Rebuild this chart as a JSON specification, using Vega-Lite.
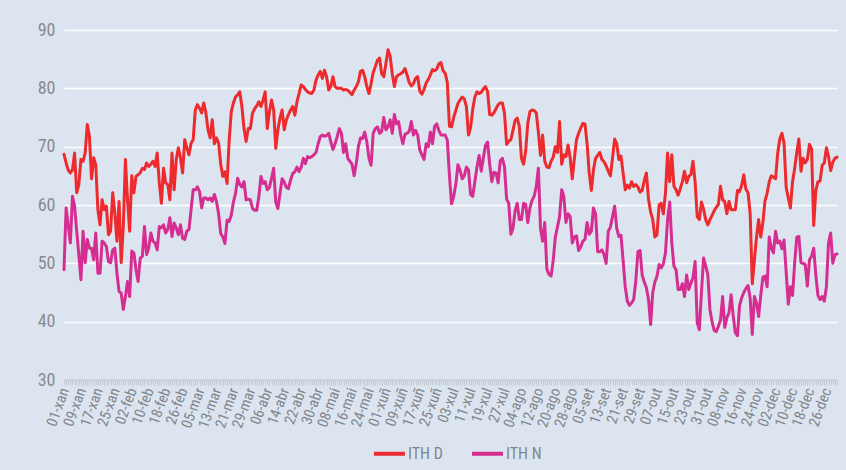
{
  "$schema": "https://vega.github.io/schema/vega-lite/v6.json",
  "width": 773,
  "height": 350,
  "autosize": {"type": "none"},
  "padding": {"left": 64, "top": 30, "right": 9, "bottom": 90},
  "background": "#dce5ef",
  "config": {
    "view": {"stroke": null},
    "font": "Roboto Condensed, Liberation Sans Narrow, Liberation Sans, sans-serif"
  },
  "data": {"values": [
{"dia":1,"ITH D":68.7,"ITH N":48.9},{"dia":2,"ITH D":67.2,"ITH N":59.5},{"dia":3,"ITH D":66.0,"ITH N":56.5},{"dia":4,"ITH D":65.5,"ITH N":53.5},{"dia":5,"ITH D":66.0,"ITH N":61.5},{"dia":6,"ITH D":68.9,"ITH N":59.8},{"dia":7,"ITH D":62.1,"ITH N":55.5},{"dia":8,"ITH D":63.5,"ITH N":51.5},{"dia":9,"ITH D":67.8,"ITH N":47.2},{"dia":10,"ITH D":67.5,"ITH N":55.5},
{"dia":11,"ITH D":68.9,"ITH N":50.1},{"dia":12,"ITH D":73.8,"ITH N":54.1},{"dia":13,"ITH D":71.8,"ITH N":52.6},{"dia":14,"ITH D":64.5,"ITH N":52.6},{"dia":15,"ITH D":68.1,"ITH N":50.6},{"dia":16,"ITH D":66.9,"ITH N":55.2},{"dia":17,"ITH D":59.2,"ITH N":48.3},{"dia":18,"ITH D":56.6,"ITH N":48.3},{"dia":19,"ITH D":60.9,"ITH N":53.8},{"dia":20,"ITH D":59.2,"ITH N":53.5},
{"dia":21,"ITH D":59.8,"ITH N":52.9},{"dia":22,"ITH D":54.9,"ITH N":50.3},{"dia":23,"ITH D":55.5,"ITH N":50.1},{"dia":24,"ITH D":62.1,"ITH N":52.3},{"dia":25,"ITH D":58.6,"ITH N":52.6},{"dia":26,"ITH D":53.8,"ITH N":48.3},{"dia":27,"ITH D":60.6,"ITH N":45.2},{"dia":28,"ITH D":50.1,"ITH N":44.9},{"dia":29,"ITH D":56.3,"ITH N":42.1},{"dia":30,"ITH D":67.8,"ITH N":44.3},
{"dia":31,"ITH D":60.9,"ITH N":46.9},{"dia":32,"ITH D":55.5,"ITH N":44.3},{"dia":33,"ITH D":65.0,"ITH N":52.1},{"dia":34,"ITH D":62.1,"ITH N":51.8},{"dia":35,"ITH D":64.9,"ITH N":48.9},{"dia":36,"ITH D":65.2,"ITH N":46.9},{"dia":37,"ITH D":65.5,"ITH N":50.9},{"dia":38,"ITH D":66.3,"ITH N":51.2},{"dia":39,"ITH D":66.1,"ITH N":56.3},{"dia":40,"ITH D":67.2,"ITH N":51.5},
{"dia":41,"ITH D":66.6,"ITH N":52.6},{"dia":42,"ITH D":67.0,"ITH N":55.2},{"dia":43,"ITH D":67.5,"ITH N":53.8},{"dia":44,"ITH D":66.6,"ITH N":53.5},{"dia":45,"ITH D":68.9,"ITH N":52.3},{"dia":46,"ITH D":63.8,"ITH N":56.3},{"dia":47,"ITH D":60.3,"ITH N":56.1},{"dia":48,"ITH D":66.3,"ITH N":56.6},{"dia":49,"ITH D":63.8,"ITH N":55.2},{"dia":50,"ITH D":63.5,"ITH N":55.8},
{"dia":51,"ITH D":60.9,"ITH N":57.8},{"dia":52,"ITH D":68.9,"ITH N":54.6},{"dia":53,"ITH D":62.6,"ITH N":56.9},{"dia":54,"ITH D":67.8,"ITH N":56.1},{"dia":55,"ITH D":69.8,"ITH N":54.9},{"dia":56,"ITH D":68.1,"ITH N":56.6},{"dia":57,"ITH D":65.5,"ITH N":54.3},{"dia":58,"ITH D":71.2,"ITH N":54.1},{"dia":59,"ITH D":69.8,"ITH N":55.5},{"dia":60,"ITH D":68.6,"ITH N":55.8},
{"dia":61,"ITH D":70.6,"ITH N":59.2},{"dia":62,"ITH D":71.2,"ITH N":62.6},{"dia":63,"ITH D":76.3,"ITH N":62.6},{"dia":64,"ITH D":77.2,"ITH N":63.1},{"dia":65,"ITH D":76.6,"ITH N":62.3},{"dia":66,"ITH D":75.8,"ITH N":59.5},{"dia":67,"ITH D":77.5,"ITH N":61.2},{"dia":68,"ITH D":75.8,"ITH N":61.2},{"dia":69,"ITH D":72.9,"ITH N":60.9},{"dia":70,"ITH D":71.5,"ITH N":61.2},
{"dia":71,"ITH D":74.6,"ITH N":60.6},{"dia":72,"ITH D":70.5,"ITH N":61.8},{"dia":73,"ITH D":71.5,"ITH N":60.6},{"dia":74,"ITH D":70.6,"ITH N":58.5},{"dia":75,"ITH D":67.0,"ITH N":55.1},{"dia":76,"ITH D":64.9,"ITH N":54.5},{"dia":77,"ITH D":65.7,"ITH N":53.4},{"dia":78,"ITH D":63.7,"ITH N":57.4},{"dia":79,"ITH D":71.1,"ITH N":57.2},{"dia":80,"ITH D":76.0,"ITH N":58.3},
{"dia":81,"ITH D":77.5,"ITH N":60.5},{"dia":82,"ITH D":78.5,"ITH N":62.0},{"dia":83,"ITH D":78.9,"ITH N":64.6},{"dia":84,"ITH D":79.4,"ITH N":63.5},{"dia":85,"ITH D":76.9,"ITH N":63.1},{"dia":86,"ITH D":73.1,"ITH N":64.0},{"dia":87,"ITH D":70.9,"ITH N":60.9},{"dia":88,"ITH D":73.1,"ITH N":61.0},{"dia":89,"ITH D":73.1,"ITH N":60.9},{"dia":90,"ITH D":75.7,"ITH N":59.4},
{"dia":91,"ITH D":76.5,"ITH N":59.1},{"dia":92,"ITH D":77.0,"ITH N":59.1},{"dia":93,"ITH D":77.7,"ITH N":61.4},{"dia":94,"ITH D":76.9,"ITH N":64.9},{"dia":95,"ITH D":78.0,"ITH N":63.7},{"dia":96,"ITH D":79.4,"ITH N":64.0},{"dia":97,"ITH D":73.1,"ITH N":62.6},{"dia":98,"ITH D":76.0,"ITH N":63.0},{"dia":99,"ITH D":78.0,"ITH N":64.6},{"dia":100,"ITH D":76.3,"ITH N":66.3},
{"dia":101,"ITH D":69.7,"ITH N":60.5},{"dia":102,"ITH D":72.9,"ITH N":59.4},{"dia":103,"ITH D":74.9,"ITH N":62.0},{"dia":104,"ITH D":76.3,"ITH N":64.5},{"dia":105,"ITH D":72.9,"ITH N":63.9},{"dia":106,"ITH D":74.6,"ITH N":63.0},{"dia":107,"ITH D":75.5,"ITH N":62.8},{"dia":108,"ITH D":76.3,"ITH N":64.3},{"dia":109,"ITH D":76.9,"ITH N":65.4},{"dia":110,"ITH D":75.4,"ITH N":65.7},
{"dia":111,"ITH D":77.7,"ITH N":66.5},{"dia":112,"ITH D":79.1,"ITH N":65.7},{"dia":113,"ITH D":80.6,"ITH N":66.5},{"dia":114,"ITH D":80.3,"ITH N":68.0},{"dia":115,"ITH D":79.8,"ITH N":67.1},{"dia":116,"ITH D":79.4,"ITH N":68.3},{"dia":117,"ITH D":79.2,"ITH N":68.1},{"dia":118,"ITH D":79.1,"ITH N":68.3},{"dia":119,"ITH D":79.7,"ITH N":68.6},{"dia":120,"ITH D":81.4,"ITH N":69.0},
{"dia":121,"ITH D":82.3,"ITH N":70.5},{"dia":122,"ITH D":82.9,"ITH N":71.7},{"dia":123,"ITH D":81.7,"ITH N":72.0},{"dia":124,"ITH D":83.1,"ITH N":71.8},{"dia":125,"ITH D":82.0,"ITH N":71.9},{"dia":126,"ITH D":79.7,"ITH N":72.3},{"dia":127,"ITH D":80.3,"ITH N":70.8},{"dia":128,"ITH D":82.0,"ITH N":69.5},{"dia":129,"ITH D":80.3,"ITH N":70.5},{"dia":130,"ITH D":80.0,"ITH N":71.7},
{"dia":131,"ITH D":80.0,"ITH N":73.1},{"dia":132,"ITH D":80.0,"ITH N":72.3},{"dia":133,"ITH D":79.7,"ITH N":69.0},{"dia":134,"ITH D":79.8,"ITH N":70.5},{"dia":135,"ITH D":79.7,"ITH N":68.0},{"dia":136,"ITH D":79.3,"ITH N":67.5},{"dia":137,"ITH D":78.9,"ITH N":67.0},{"dia":138,"ITH D":79.7,"ITH N":65.0},{"dia":139,"ITH D":80.3,"ITH N":67.1},{"dia":140,"ITH D":81.1,"ITH N":70.0},
{"dia":141,"ITH D":82.9,"ITH N":71.5},{"dia":142,"ITH D":83.1,"ITH N":71.4},{"dia":143,"ITH D":82.0,"ITH N":72.5},{"dia":144,"ITH D":80.3,"ITH N":70.8},{"dia":145,"ITH D":79.1,"ITH N":68.0},{"dia":146,"ITH D":80.8,"ITH N":66.8},{"dia":147,"ITH D":82.7,"ITH N":72.3},{"dia":148,"ITH D":83.7,"ITH N":73.1},{"dia":149,"ITH D":84.8,"ITH N":73.4},{"dia":150,"ITH D":85.2,"ITH N":72.3},
{"dia":151,"ITH D":82.5,"ITH N":72.6},{"dia":152,"ITH D":82.0,"ITH N":75.0},{"dia":153,"ITH D":84.2,"ITH N":72.9},{"dia":154,"ITH D":86.6,"ITH N":73.4},{"dia":155,"ITH D":85.5,"ITH N":74.6},{"dia":156,"ITH D":82.5,"ITH N":72.3},{"dia":157,"ITH D":80.3,"ITH N":75.5},{"dia":158,"ITH D":82.0,"ITH N":73.9},{"dia":159,"ITH D":82.3,"ITH N":74.3},{"dia":160,"ITH D":82.5,"ITH N":72.0},
{"dia":161,"ITH D":82.8,"ITH N":70.5},{"dia":162,"ITH D":83.4,"ITH N":72.1},{"dia":163,"ITH D":82.3,"ITH N":72.3},{"dia":164,"ITH D":81.0,"ITH N":72.6},{"dia":165,"ITH D":80.4,"ITH N":74.3},{"dia":166,"ITH D":80.8,"ITH N":72.0},{"dia":167,"ITH D":81.7,"ITH N":72.8},{"dia":168,"ITH D":82.0,"ITH N":72.0},{"dia":169,"ITH D":79.5,"ITH N":69.4},{"dia":170,"ITH D":79.0,"ITH N":68.6},
{"dia":171,"ITH D":79.8,"ITH N":67.8},{"dia":172,"ITH D":80.9,"ITH N":70.5},{"dia":173,"ITH D":81.5,"ITH N":70.0},{"dia":174,"ITH D":82.3,"ITH N":72.5},{"dia":175,"ITH D":83.2,"ITH N":70.5},{"dia":176,"ITH D":83.0,"ITH N":73.5},{"dia":177,"ITH D":83.3,"ITH N":73.9},{"dia":178,"ITH D":84.2,"ITH N":72.8},{"dia":179,"ITH D":84.4,"ITH N":72.0},{"dia":180,"ITH D":83.0,"ITH N":72.0},
{"dia":181,"ITH D":82.6,"ITH N":72.0},{"dia":182,"ITH D":81.0,"ITH N":71.1},{"dia":183,"ITH D":73.5,"ITH N":65.0},{"dia":184,"ITH D":73.4,"ITH N":60.2},{"dia":185,"ITH D":75.0,"ITH N":61.5},{"dia":186,"ITH D":76.2,"ITH N":63.5},{"dia":187,"ITH D":77.4,"ITH N":66.9},{"dia":188,"ITH D":78.0,"ITH N":66.0},{"dia":189,"ITH D":78.5,"ITH N":64.5},{"dia":190,"ITH D":78.2,"ITH N":65.0},
{"dia":191,"ITH D":76.9,"ITH N":66.5},{"dia":192,"ITH D":72.0,"ITH N":66.0},{"dia":193,"ITH D":73.3,"ITH N":61.8},{"dia":194,"ITH D":76.4,"ITH N":61.5},{"dia":195,"ITH D":78.5,"ITH N":64.0},{"dia":196,"ITH D":79.4,"ITH N":66.5},{"dia":197,"ITH D":79.1,"ITH N":68.5},{"dia":198,"ITH D":79.3,"ITH N":65.8},{"dia":199,"ITH D":79.9,"ITH N":68.0},{"dia":200,"ITH D":80.3,"ITH N":70.2},
{"dia":201,"ITH D":79.5,"ITH N":70.8},{"dia":202,"ITH D":75.5,"ITH N":67.0},{"dia":203,"ITH D":75.4,"ITH N":64.0},{"dia":204,"ITH D":75.8,"ITH N":65.6},{"dia":205,"ITH D":76.5,"ITH N":65.5},{"dia":206,"ITH D":77.2,"ITH N":63.8},{"dia":207,"ITH D":77.5,"ITH N":67.6},{"dia":208,"ITH D":77.5,"ITH N":68.0},{"dia":209,"ITH D":75.7,"ITH N":66.5},{"dia":210,"ITH D":70.4,"ITH N":61.0},
{"dia":211,"ITH D":70.9,"ITH N":60.3},{"dia":212,"ITH D":71.2,"ITH N":55.0},{"dia":213,"ITH D":72.8,"ITH N":56.0},{"dia":214,"ITH D":74.5,"ITH N":59.0},{"dia":215,"ITH D":74.9,"ITH N":60.3},{"dia":216,"ITH D":73.5,"ITH N":57.5},{"dia":217,"ITH D":68.0,"ITH N":57.5},{"dia":218,"ITH D":67.0,"ITH N":60.3},{"dia":219,"ITH D":69.3,"ITH N":60.1},{"dia":220,"ITH D":74.0,"ITH N":57.0},
{"dia":221,"ITH D":76.0,"ITH N":59.5},{"dia":222,"ITH D":76.3,"ITH N":60.8},{"dia":223,"ITH D":76.2,"ITH N":61.5},{"dia":224,"ITH D":75.8,"ITH N":63.2},{"dia":225,"ITH D":72.5,"ITH N":66.3},{"dia":226,"ITH D":68.5,"ITH N":56.0},{"dia":227,"ITH D":72.0,"ITH N":53.8},{"dia":228,"ITH D":67.5,"ITH N":57.0},{"dia":229,"ITH D":66.5,"ITH N":49.0},{"dia":230,"ITH D":66.4,"ITH N":48.1},
{"dia":231,"ITH D":67.5,"ITH N":47.8},{"dia":232,"ITH D":68.2,"ITH N":50.5},{"dia":233,"ITH D":70.0,"ITH N":54.5},{"dia":234,"ITH D":69.0,"ITH N":56.2},{"dia":235,"ITH D":74.3,"ITH N":58.0},{"dia":236,"ITH D":67.0,"ITH N":62.6},{"dia":237,"ITH D":68.6,"ITH N":61.5},{"dia":238,"ITH D":68.3,"ITH N":57.0},{"dia":239,"ITH D":70.3,"ITH N":58.5},{"dia":240,"ITH D":68.1,"ITH N":58.0},
{"dia":241,"ITH D":64.5,"ITH N":53.5},{"dia":242,"ITH D":68.0,"ITH N":54.5},{"dia":243,"ITH D":71.2,"ITH N":54.7},{"dia":244,"ITH D":72.3,"ITH N":52.2},{"dia":245,"ITH D":73.2,"ITH N":52.8},{"dia":246,"ITH D":74.0,"ITH N":53.8},{"dia":247,"ITH D":73.9,"ITH N":54.1},{"dia":248,"ITH D":70.5,"ITH N":57.0},{"dia":249,"ITH D":65.5,"ITH N":55.0},{"dia":250,"ITH D":62.5,"ITH N":55.5},
{"dia":251,"ITH D":66.0,"ITH N":59.5},{"dia":252,"ITH D":68.0,"ITH N":58.5},{"dia":253,"ITH D":68.5,"ITH N":52.0},{"dia":254,"ITH D":69.0,"ITH N":52.0},{"dia":255,"ITH D":67.8,"ITH N":52.3},{"dia":256,"ITH D":67.4,"ITH N":51.5},{"dia":257,"ITH D":66.7,"ITH N":50.0},{"dia":258,"ITH D":65.8,"ITH N":55.5},{"dia":259,"ITH D":65.0,"ITH N":56.2},{"dia":260,"ITH D":68.0,"ITH N":58.0},
{"dia":261,"ITH D":71.3,"ITH N":59.8},{"dia":262,"ITH D":70.5,"ITH N":56.0},{"dia":263,"ITH D":67.8,"ITH N":54.6},{"dia":264,"ITH D":68.4,"ITH N":54.8},{"dia":265,"ITH D":65.5,"ITH N":50.5},{"dia":266,"ITH D":62.6,"ITH N":46.0},{"dia":267,"ITH D":63.4,"ITH N":43.5},{"dia":268,"ITH D":62.9,"ITH N":42.8},{"dia":269,"ITH D":64.0,"ITH N":43.2},{"dia":270,"ITH D":63.2,"ITH N":43.8},
{"dia":271,"ITH D":63.5,"ITH N":47.0},{"dia":272,"ITH D":63.1,"ITH N":52.0},{"dia":273,"ITH D":62.2,"ITH N":52.2},{"dia":274,"ITH D":62.5,"ITH N":48.0},{"dia":275,"ITH D":64.2,"ITH N":46.8},{"dia":276,"ITH D":65.5,"ITH N":45.8},{"dia":277,"ITH D":61.0,"ITH N":43.8},{"dia":278,"ITH D":58.8,"ITH N":39.5},{"dia":279,"ITH D":57.5,"ITH N":45.0},{"dia":280,"ITH D":54.5,"ITH N":46.8},
{"dia":281,"ITH D":54.9,"ITH N":47.8},{"dia":282,"ITH D":60.0,"ITH N":49.8},{"dia":283,"ITH D":60.3,"ITH N":49.2},{"dia":284,"ITH D":58.5,"ITH N":49.9},{"dia":285,"ITH D":62.0,"ITH N":51.8},{"dia":286,"ITH D":68.9,"ITH N":57.5},{"dia":287,"ITH D":64.0,"ITH N":60.5},{"dia":288,"ITH D":68.6,"ITH N":53.5},{"dia":289,"ITH D":63.2,"ITH N":49.5},{"dia":290,"ITH D":62.6,"ITH N":48.9},
{"dia":291,"ITH D":61.7,"ITH N":45.5},{"dia":292,"ITH D":62.8,"ITH N":45.5},{"dia":293,"ITH D":64.0,"ITH N":46.5},{"dia":294,"ITH D":65.8,"ITH N":44.3},{"dia":295,"ITH D":63.8,"ITH N":48.0},{"dia":296,"ITH D":64.9,"ITH N":45.5},{"dia":297,"ITH D":65.2,"ITH N":46.6},{"dia":298,"ITH D":67.5,"ITH N":47.5},{"dia":299,"ITH D":64.0,"ITH N":50.3},{"dia":300,"ITH D":58.0,"ITH N":39.8},
{"dia":301,"ITH D":57.5,"ITH N":38.6},{"dia":302,"ITH D":60.5,"ITH N":45.0},{"dia":303,"ITH D":59.3,"ITH N":50.9},{"dia":304,"ITH D":57.5,"ITH N":49.5},{"dia":305,"ITH D":56.6,"ITH N":48.1},{"dia":306,"ITH D":57.5,"ITH N":42.1},{"dia":307,"ITH D":58.2,"ITH N":40.0},{"dia":308,"ITH D":59.0,"ITH N":38.5},{"dia":309,"ITH D":59.6,"ITH N":38.3},{"dia":310,"ITH D":60.1,"ITH N":39.2},
{"dia":311,"ITH D":63.2,"ITH N":40.3},{"dia":312,"ITH D":60.9,"ITH N":44.3},{"dia":313,"ITH D":60.6,"ITH N":39.0},{"dia":314,"ITH D":58.5,"ITH N":40.7},{"dia":315,"ITH D":60.6,"ITH N":41.5},{"dia":316,"ITH D":59.2,"ITH N":44.6},{"dia":317,"ITH D":59.2,"ITH N":41.0},{"dia":318,"ITH D":59.2,"ITH N":38.1},{"dia":319,"ITH D":62.5,"ITH N":37.6},{"dia":320,"ITH D":62.3,"ITH N":42.8},
{"dia":321,"ITH D":63.4,"ITH N":44.1},{"dia":322,"ITH D":65.2,"ITH N":45.0},{"dia":323,"ITH D":62.7,"ITH N":45.7},{"dia":324,"ITH D":62.1,"ITH N":46.2},{"dia":325,"ITH D":58.5,"ITH N":44.0},{"dia":326,"ITH D":46.5,"ITH N":37.8},{"dia":327,"ITH D":50.6,"ITH N":44.3},{"dia":328,"ITH D":54.5,"ITH N":43.2},{"dia":329,"ITH D":57.5,"ITH N":40.9},{"dia":330,"ITH D":54.5,"ITH N":44.5},
{"dia":331,"ITH D":57.0,"ITH N":47.6},{"dia":332,"ITH D":60.7,"ITH N":47.8},{"dia":333,"ITH D":62.0,"ITH N":46.0},{"dia":334,"ITH D":64.0,"ITH N":54.5},{"dia":335,"ITH D":65.0,"ITH N":52.6},{"dia":336,"ITH D":64.8,"ITH N":51.8},{"dia":337,"ITH D":64.5,"ITH N":55.5},{"dia":338,"ITH D":68.9,"ITH N":53.5},{"dia":339,"ITH D":71.3,"ITH N":53.8},{"dia":340,"ITH D":72.3,"ITH N":52.5},
{"dia":341,"ITH D":70.6,"ITH N":54.0},{"dia":342,"ITH D":63.0,"ITH N":48.5},{"dia":343,"ITH D":61.2,"ITH N":43.0},{"dia":344,"ITH D":59.5,"ITH N":46.0},{"dia":345,"ITH D":64.0,"ITH N":44.5},{"dia":346,"ITH D":66.2,"ITH N":50.0},{"dia":347,"ITH D":69.0,"ITH N":54.5},{"dia":348,"ITH D":71.3,"ITH N":54.6},{"dia":349,"ITH D":65.8,"ITH N":50.1},{"dia":350,"ITH D":68.0,"ITH N":50.0},
{"dia":351,"ITH D":67.2,"ITH N":49.8},{"dia":352,"ITH D":67.8,"ITH N":46.1},{"dia":353,"ITH D":70.4,"ITH N":50.6},{"dia":354,"ITH D":69.6,"ITH N":51.2},{"dia":355,"ITH D":56.5,"ITH N":52.6},{"dia":356,"ITH D":62.5,"ITH N":48.0},{"dia":357,"ITH D":64.0,"ITH N":44.5},{"dia":358,"ITH D":64.1,"ITH N":43.8},{"dia":359,"ITH D":66.8,"ITH N":44.3},{"dia":360,"ITH D":67.2,"ITH N":43.5},
{"dia":361,"ITH D":69.8,"ITH N":46.0},{"dia":362,"ITH D":68.3,"ITH N":53.5},{"dia":363,"ITH D":65.9,"ITH N":55.2},{"dia":364,"ITH D":67.3,"ITH N":50.0},{"dia":365,"ITH D":68.0,"ITH N":51.5},{"dia":366,"ITH D":68.2,"ITH N":51.6}
  ]},
  "transform": [{"fold": ["ITH D", "ITH N"], "as": ["serie", "valor"]}],
  "mark": {"type": "line", "strokeWidth": 3, "strokeJoin": "round", "strokeCap": "round"},
  "encoding": {
    "x": {
      "field": "dia", "type": "quantitative",
      "scale": {"domain": [1, 366], "nice": false, "zero": false},
      "axis": {
        "title": null, "grid": false, "tickCount": 365,
        "domainColor": "#c8cfd8", "domainWidth": 2,
        "tickColor": "#c3cad3", "tickSize": 5, "tickWidth": 1,
        "labelAngle": -70, "labelAlign": "right", "labelBaseline": "middle",
        "labelPadding": 3, "labelFontSize": 15, "labelColor": "#80868c",
        "labelOverlap": false, "labelFlush": false,
        "labelExpr": "(datum.value - 1) % 8 == 0 ? timeFormat(datetime(2020, 0, datum.value), '%d') + '-' + ['xan','feb','mar','abr','mai','xuñ','xul','ago','set','out','nov','dec'][month(datetime(2020, 0, datum.value))] : ''"
      }
    },
    "y": {
      "field": "valor", "type": "quantitative",
      "scale": {"domain": [30, 90], "nice": false, "zero": false},
      "axis": {
        "title": null, "values": [30, 40, 50, 60, 70, 80, 90],
        "domain": false, "ticks": false,
        "gridColor": "#ffffff", "gridWidth": 1.5,
        "gridOpacity": {"condition": {"test": "datum.value == 30", "value": 0}, "value": 1},
        "labelFontSize": 18, "labelColor": "#878c92", "labelPadding": 9
      }
    },
    "color": {
      "field": "serie", "type": "nominal",
      "scale": {"domain": ["ITH D", "ITH N"], "range": ["#ed2a2e", "#d62d91"]},
      "legend": {
        "title": null, "orient": "none", "legendX": 308, "legendY": 406,
        "direction": "horizontal", "symbolType": "stroke", "symbolSize": 961,
        "symbolStrokeWidth": 4, "labelFontSize": 16, "labelColor": "#80868c",
        "labelOffset": 1, "columnPadding": 21, "padding": 0
      }
    }
  }
}
